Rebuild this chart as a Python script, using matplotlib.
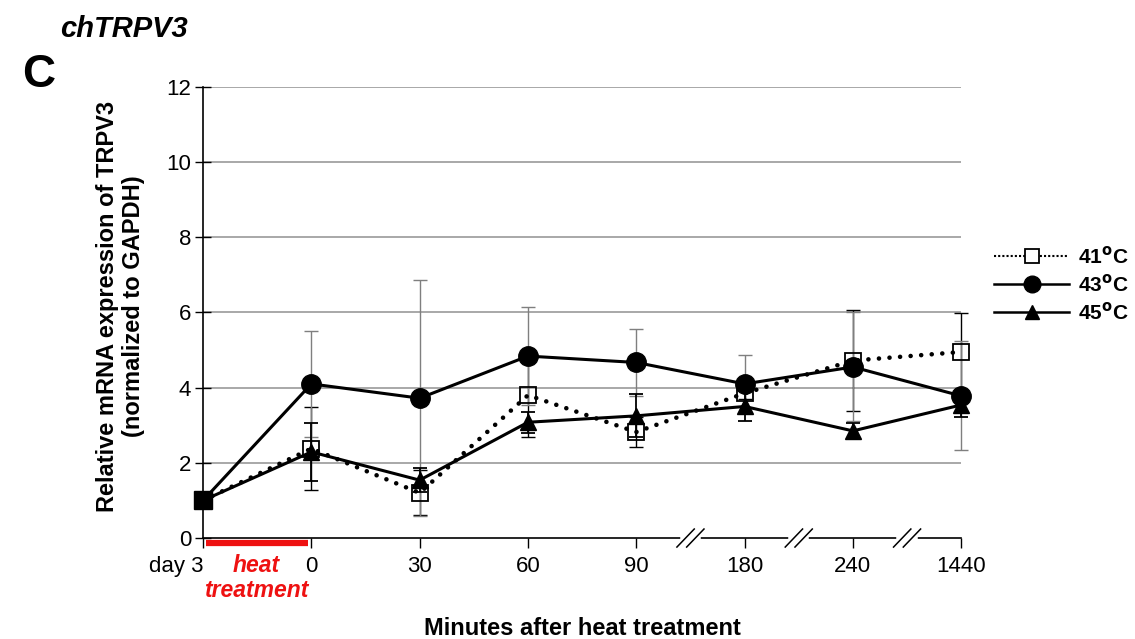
import matplotlib.pyplot as plt
from matplotlib.lines import Line2D
import matplotlib.transforms as mtransforms

plt.rcParams['font.family'] = ['Liberation Sans', 'DejaVu Sans']

# data
x_labels = ['day 3', '0', '30', '60', '90', '180', '240', '1440']
pos = list(range(len(x_labels)))

t41 = [1.0, 2.38, 1.20, 3.80, 2.82, 3.85, 4.72, 4.95]
e41 = [0, 1.10, 0.60, 1.10, 0.40, 0.15, 1.35, 1.03]
t43 = [1.0, 4.10, 3.72, 4.84, 4.67, 4.10, 4.55, 3.78]
e43 = [0, 1.40, 3.14, 1.30, 0.90, 0.77, 1.45, 1.45]
t45 = [1.0, 2.29, 1.54, 3.08, 3.25, 3.50, 2.85, 3.54]
e45 = [0, 0.76, 0.31, 0.28, 0.57, 0.40, 0.20, 0.32]

breaks = [4.5, 5.5, 6.5]
heat_span = (0.03, 0.97)


class para:
    tick_size = 16
    label_font = {'size': 17, 'weight': 'bold'}
    heat_font = {'size': 16.5, 'weight': 'bold', 'style': 'italic', 'color': '#ee1111'}
    grid_color = '#9a9a9a'
    dot_style = (0, (0.01, 2.3))


fig = plt.figure(figsize=(11.35, 6.39), dpi=100)
ax = fig.add_axes([0.1789, 0.158, 0.668, 0.706])

for yv in range(2, 13, 2):
    ax.axhline(yv, color=para.grid_color, lw=1.2, zorder=0)

# error bars first
ax.errorbar(pos, t41, yerr=e41, fmt='none', ecolor='black', elinewidth=1.0,
            capsize=5, capthick=1.0, zorder=2, clip_on=False)
ax.errorbar(pos, t43, yerr=e43, fmt='none', ecolor='#7f7f7f', elinewidth=1.0,
            capsize=5, capthick=1.0, zorder=2, clip_on=False)
ax.errorbar(pos, t45, yerr=e45, fmt='none', ecolor='black', elinewidth=1.3,
            capsize=5, capthick=1.3, zorder=2, clip_on=False)

after = pos[1:]
l41, = ax.plot(pos, t41, color='black', lw=3.3, linestyle=para.dot_style,
               dash_capstyle='round', marker='s', ms=12, mfc='none', mec='black',
               mew=1.3, markevery=after, zorder=3, clip_on=False)
l43, = ax.plot(pos, t43, color='black', lw=2.2, marker='o', ms=14,
               markevery=after, zorder=4, clip_on=False)
l45, = ax.plot(pos, t45, color='black', lw=2.2, marker='^', ms=12,
               markevery=after, zorder=5, clip_on=False)
# baseline point drawn as a filled square
ax.plot(pos[0], t41[0], marker='s', ms=13, color='black', zorder=6, clip_on=False)

ax.set_xlim(0, 7)
ax.set_ylim(0, 12)
ax.set_yticks(range(0, 13, 2))
ax.set_xticks(pos)
ax.set_xticklabels(x_labels)
ax.get_xticklabels()[0].set_ha('right')
for frame in ['right', 'top']:
    ax.spines[frame].set_visible(False)
ax.spines['left'].set_linewidth(1.2)
ax.spines['bottom'].set_linewidth(1.2)
ax.tick_params(axis='y', direction='inout', length=11, width=1, labelsize=para.tick_size, pad=3)
ax.tick_params(axis='x', direction='out', length=7, width=1, labelsize=para.tick_size, pad=6)

fig.text(0.106, 0.521, 'Relative mRNA expression of TRPV3\n(normalized to GAPDH)',
         rotation=90, ha='center', va='center', linespacing=1.15, **para.label_font)
fig.text(0.513, 0.017, 'Minutes after heat treatment', ha='center', va='center',
         **para.label_font)

# axis breaks
trans = mtransforms.blended_transform_factory(ax.transData, ax.transAxes)
for b in breaks:
    ax.plot([b - 0.07, b + 0.07], [0, 0], color='white', lw=4, transform=trans,
            clip_on=False, zorder=7)
    for dx in (-0.045, 0.045):
        ax.plot([b + dx - 0.08, b + dx + 0.08], [-0.02, 0.02], color='black',
                lw=1.1, transform=trans, clip_on=False, zorder=8)

# heat treatment bar
ax.plot(heat_span, [-0.012, -0.012], color='#ee1111', lw=4.5, transform=trans,
        clip_on=False, solid_capstyle='butt', zorder=9)
heat_mid = sum(heat_span) / 2 - 0.01
ax.text(heat_mid, -0.061, 'heat', ha='center', va='center', transform=trans,
        fontdict=para.heat_font)
ax.text(heat_mid, -0.116, 'treatment', ha='center', va='center', transform=trans,
        fontdict=para.heat_font)

fig.text(0.109, 0.955, 'chTRPV3', fontsize=21, fontweight='bold', fontstyle='italic',
         ha='center', va='center')
fig.text(0.034, 0.883, 'C', fontsize=33, fontweight='bold', ha='center', va='center')

handles = [
    Line2D([], [], color='black', lw=1.5, linestyle=(0, (1, 1)), marker='s', ms=10,
           mfc='white', mec='black', mew=1.3),
    Line2D([], [], color='black', lw=1.8, marker='o', ms=12),
    Line2D([], [], color='black', lw=1.8, marker='^', ms=10),
]
fig.legend(handles, ['41$^{\\mathbf{o}}$C', '43$^{\\mathbf{o}}$C', '45$^{\\mathbf{o}}$C'],
           loc='center left', bbox_to_anchor=(0.876, 0.555), frameon=False,
           prop={'size': 15, 'weight': 'bold'}, handlelength=3.6, handletextpad=0.4,
           labelspacing=0.3, borderaxespad=0, borderpad=0)

fig.savefig('out.png', dpi=100)
